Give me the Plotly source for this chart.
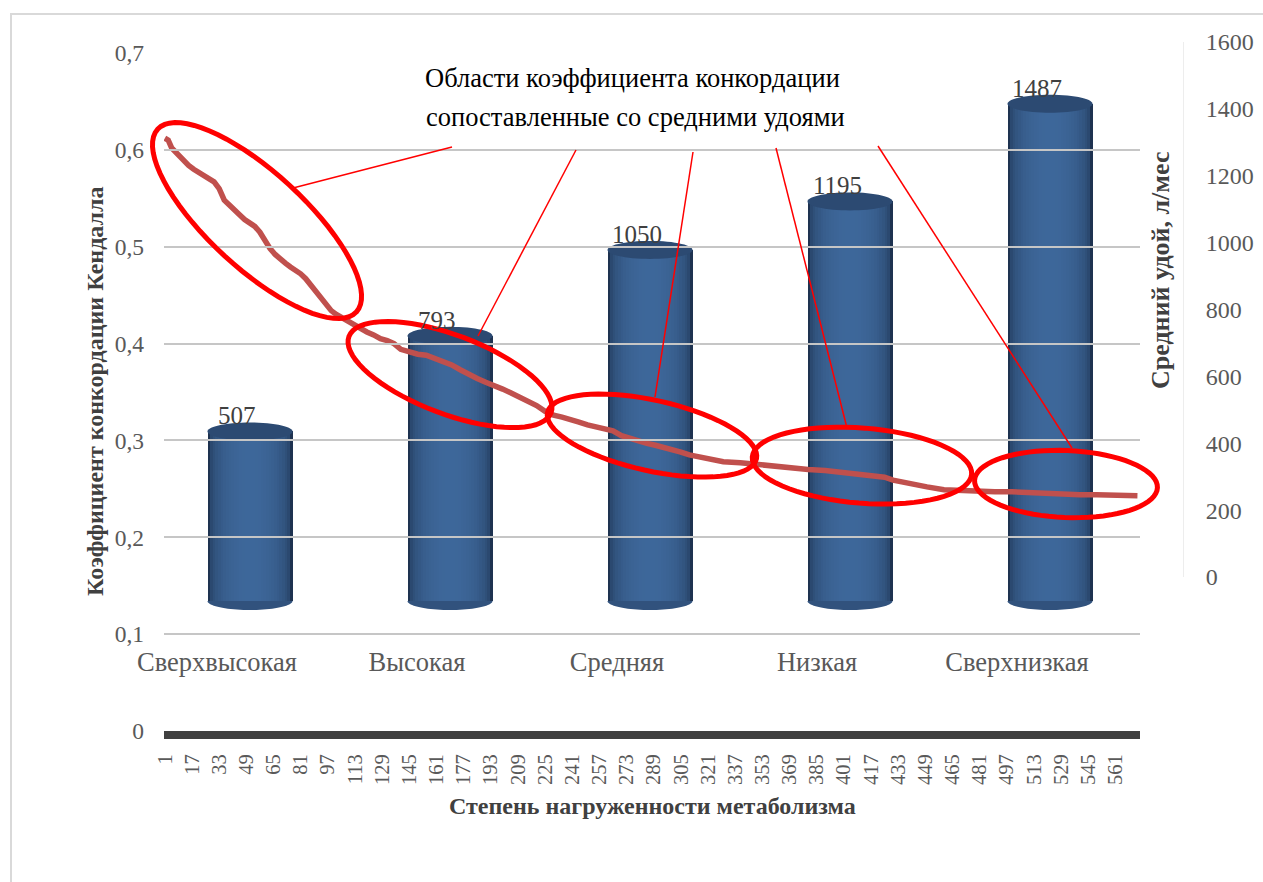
import math
import plotly.graph_objects as go

# ---------------- data ----------------
categories = ["Сверхвысокая", "Высокая", "Средняя", "Низкая", "Сверхнизкая"]
milk_yield = [507, 793, 1050, 1195, 1487]          # средний удой, л/мес

# Kendall coefficient along the metabolic-load ranking (rank index -> W)
kendall_idx = [1, 3, 5, 7, 9, 12, 15, 18, 21, 24, 27, 30, 33, 36, 39, 42, 45, 48, 51,
               54, 57, 60, 63, 66, 69, 72, 75, 78, 81, 84, 87, 90, 93, 96, 99, 102,
               105, 108, 112, 116, 120, 124, 128, 132, 136, 140, 145, 150, 155, 160,
               165, 170, 175, 180, 185, 190, 195, 200, 205, 210, 215, 220, 225, 230,
               235, 240, 245, 250, 255, 260, 265, 270, 275, 280, 285, 290, 295, 300,
               305, 310, 315, 320, 325, 330, 340, 350, 360, 370, 380, 390, 400, 410,
               420, 425, 430, 435, 440, 450, 460, 470, 480, 490, 500, 510, 520, 530,
               540, 550, 560, 570, 574]
kendall_w = [0.612, 0.610, 0.602, 0.598, 0.595, 0.590, 0.584, 0.580, 0.577, 0.573,
             0.570, 0.567, 0.560, 0.548, 0.543, 0.537, 0.533, 0.528, 0.525, 0.521,
             0.515, 0.505, 0.498, 0.492, 0.487, 0.483, 0.479, 0.476, 0.472, 0.467,
             0.460, 0.453, 0.446, 0.440, 0.434, 0.430, 0.427, 0.424, 0.419, 0.415,
             0.412, 0.409, 0.405, 0.403, 0.400, 0.394, 0.391, 0.389, 0.388, 0.385,
             0.382, 0.378, 0.373, 0.368, 0.364, 0.360, 0.357, 0.353, 0.349, 0.345,
             0.341, 0.336, 0.330, 0.326, 0.324, 0.322, 0.319, 0.316, 0.314, 0.312,
             0.310, 0.305, 0.302, 0.299, 0.297, 0.295, 0.293, 0.291, 0.288, 0.285,
             0.283, 0.281, 0.279, 0.278, 0.277, 0.275, 0.273, 0.271, 0.270, 0.269,
             0.267, 0.266, 0.264, 0.262, 0.259, 0.257, 0.255, 0.252, 0.249, 0.248,
             0.248, 0.247, 0.247, 0.246, 0.246, 0.245, 0.244, 0.244, 0.244, 0.243,
             0.243]
n_ranks = 575

# tick labels
w_tickvals = [0, 0.1, 0.2, 0.3, 0.4, 0.5, 0.6, 0.7]
w_ticktext = ["0", "0,1", "0,2", "0,3", "0,4", "0,5", "0,6", "0,7"]
yield_ticks = [0, 200, 400, 600, 800, 1000, 1200, 1400, 1600]
rank_ticks = list(range(1, 562, 16))

# ---------------- geometry helpers ----------------
W, H = 1263, 882
def fx(px):
    return px / W
def fy(py):
    return 1 - py / H

PL, PR, PT, PB = 164, 1140, 53, 731       # plot box in px
RANK_PX = (PR - PL) / n_ranks               # px per rank step
W_PX = (PB - PT) / 0.7                      # px per unit of W
Y_RIGHT_TOP, Y_RIGHT_BOT = 42, 577          # right scale 1600 .. 0
YIELD_PX = (Y_RIGHT_BOT - Y_RIGHT_TOP) / 1600
BAR_BASE = 601                              # px of the cylinder base
BAR_C0, BAR_STEP = 250, 200                 # px of first cylinder centre, spacing
CAT_C0 = 217                                # px of first category label

BAR_W = 0.425                               # in category units
CAP_RY = 9 / YIELD_PX                       # cap half-height in yield units

fig = go.Figure()

# ---------------- cylinders (subplot x / y) ----------------
dark = (30, 50, 80)
light = (62, 104, 155)
n_layers = 16
mid = tuple(int(d + (l - d) * 0.6) for d, l in zip(dark, light))
xs = list(range(len(categories)))

# rounded bottoms
for k in xs:
    ts = [math.pi + math.pi * j / 40 for j in range(41)]
    fig.add_trace(go.Scatter(
        x=[k + BAR_W / 2 * math.cos(t) for t in ts],
        y=[CAP_RY * math.sin(t) for t in ts],
        fill="toself", fillcolor="rgb(%d,%d,%d)" % mid, mode="none",
        hoverinfo="skip", showlegend=False, xaxis="x", yaxis="y"))

for j in range(n_layers):
    f = 1 - j / n_layers
    s = math.sqrt(max(0.0, 1 - f * f)) ** 0.8
    col = tuple(int(d + (l - d) * s) for d, l in zip(dark, light))
    fig.add_trace(go.Bar(
        x=xs, y=milk_yield, width=BAR_W * f, base=0,
        marker=dict(color="rgb(%d,%d,%d)" % col, line=dict(width=0)),
        hoverinfo="skip", showlegend=False, xaxis="x", yaxis="y"))

# top caps
cap = (44, 74, 114)
for k, v in zip(xs, milk_yield):
    ts = [2 * math.pi * j / 60 for j in range(61)]
    fig.add_trace(go.Scatter(
        x=[k + BAR_W / 2 * math.cos(t) for t in ts],
        y=[v + CAP_RY * math.sin(t) for t in ts],
        fill="toself", fillcolor="rgb(%d,%d,%d)" % cap, mode="none",
        hoverinfo="skip", showlegend=False, xaxis="x", yaxis="y"))

# ---------------- Kendall curve (subplot x2 / y2) ----------------
fig.add_trace(go.Scatter(
    x=kendall_idx, y=kendall_w, mode="lines",
    line=dict(color="#C0504D", width=5.5),
    hoverinfo="skip", showlegend=False, xaxis="x2", yaxis="y2"))

# carriers for the right scale and the category row
fig.add_trace(go.Scatter(x=[1], y=[0], mode="markers", marker=dict(opacity=0),
                         hoverinfo="skip", showlegend=False, xaxis="x2", yaxis="y3"))
fig.add_trace(go.Scatter(x=[0], y=[0.1], mode="markers", marker=dict(opacity=0),
                         hoverinfo="skip", showlegend=False, xaxis="x3", yaxis="y2"))

SERIF = "Liberation Serif, Times New Roman, serif"
GREY = "#595959"
dom_x = [fx(PL), fx(PR)]
dom_y = [fy(PB), fy(PT)]

fig.update_layout(
    width=W, height=H,
    margin=dict(l=0, r=0, t=0, b=0, pad=0, autoexpand=False),
    paper_bgcolor="white", plot_bgcolor="rgba(0,0,0,0)",
    barmode="overlay", bargap=0,
    font=dict(family=SERIF, color=GREY),
    xaxis=dict(domain=dom_x, range=[(PL - BAR_C0) / BAR_STEP, (PR - BAR_C0) / BAR_STEP],
               visible=False, anchor="y", automargin=False),
    yaxis=dict(domain=dom_y,
               range=[-(PB - BAR_BASE) / YIELD_PX, (BAR_BASE - PT) / YIELD_PX],
               visible=False, anchor="x", automargin=False),
    xaxis2=dict(domain=dom_x, range=[0.5, n_ranks + 0.5], anchor="y2",
                tickvals=rank_ticks, ticktext=[str(t) for t in rank_ticks],
                tickangle=-90, tickfont=dict(size=20.5, color=GREY),
                showline=True, linewidth=8, linecolor="#404040",
                showgrid=False, zeroline=False, ticks="", ticklabelstandoff=7,
                automargin=False),
    yaxis2=dict(domain=dom_y, range=[0, 0.7], anchor="x2",
                tickvals=w_tickvals, ticktext=w_ticktext,
                tickfont=dict(size=23.5, color=GREY),
                showgrid=True, gridcolor="#C6C6C6", gridwidth=2,
                zeroline=False, showline=False, ticks="", ticklabelstandoff=19,
                automargin=False),
    xaxis3=dict(domain=dom_x, range=[(PL - CAT_C0) / BAR_STEP, (PR - CAT_C0) / BAR_STEP],
                anchor="free", position=fy(643),
                tickvals=xs, ticktext=categories, tickfont=dict(size=26.5, color=GREY),
                showgrid=False, zeroline=False, showline=False, ticks="",
                automargin=False),
    yaxis3=dict(domain=[fy(Y_RIGHT_BOT), fy(Y_RIGHT_TOP)], range=[0, 1600],
                anchor="free", position=fx(1183), side="right",
                tickvals=yield_ticks, tickfont=dict(size=24, color=GREY),
                showgrid=False, zeroline=False, showline=True,
                linecolor="#EDEDED", linewidth=1, ticks="", ticklabelstandoff=17,
                automargin=False),
)

# ---------------- value labels ----------------
for k, v in zip(xs, milk_yield):
    fig.add_annotation(x=k, y=v, xref="x", yref="y", text=str(v), showarrow=False,
                       xanchor="center", yanchor="bottom", xshift=-13, yshift=0,
                       font=dict(size=25, color="#404040", family=SERIF))

# ---------------- axis titles ----------------
def label(px, py, text, size, angle=0, color="#404040"):
    fig.add_annotation(x=fx(px), y=fy(py), xref="paper", yref="paper",
                       xanchor="center", yanchor="middle", text=text,
                       textangle=angle, showarrow=False,
                       font=dict(family=SERIF, size=size, color=color))

label(95, 392, "<b>Коэффициент конкордации Кендалла</b>", 24, -90)
label(1160, 271, "<b>Средний удой, л/мес</b>", 26, -90)
label(652, 806, "<b>Степень нагруженности метаболизма</b>", 24)

# ---------------- callout ----------------
label(632, 78, "Области коэффициента конкордации", 26.5, color="#000000")
label(635, 117, "сопоставленные со средними удоями", 26.5, color="#000000")

# highlighted regions of the curve: centre (rank, W), semi-axes px, tilt deg
regions = [
    (55.3, 0.527, 135, 48, 42.6),
    (169.0, 0.368, 108, 39.4, 20.7),
    (288.0, 0.305, 107, 35.3, 12.5),
    (411.7, 0.274, 110, 37.6, 4.5),
    (531.9, 0.255, 91.5, 33.5, 2.3),
]

def region_path(ci, cw, a, b, ang):
    cx = PL + (ci - 0.5) * RANK_PX
    cy = PB - cw * W_PX
    th = math.radians(ang)
    pts = []
    for j in range(73):
        t = 2 * math.pi * j / 72
        u, v = a * math.cos(t), b * math.sin(t)
        px = cx + u * math.cos(th) - v * math.sin(th)
        py = cy + u * math.sin(th) + v * math.cos(th)
        pts.append((fx(px), fy(py)))
    return "M " + " L ".join("%.5f,%.5f" % p for p in pts) + " Z"

for r in regions:
    fig.add_shape(type="path", path=region_path(*r), xref="paper", yref="paper",
                  line=dict(color="#FF0000", width=5), fillcolor="rgba(0,0,0,0)",
                  layer="above")

leaders = [((452, 147), (293, 188)), ((576, 150), (478, 336)),
           ((693, 152), (655, 397)), ((776, 148), (847, 428)),
           ((878, 146), (1072, 448))]
for (x0, y0), (x1, y1) in leaders:
    fig.add_shape(type="line", x0=fx(x0), y0=fy(y0), x1=fx(x1), y1=fy(y1),
                  xref="paper", yref="paper", line=dict(color="#FF0000", width=1.5),
                  layer="above")

# chart frame
fig.add_shape(type="rect", x0=fx(11), y0=fy(14), x1=fx(1290), y1=fy(910),
              xref="paper", yref="paper", line=dict(color="#D9D9D9", width=2),
              layer="below")

fig.write_html("out.html")
